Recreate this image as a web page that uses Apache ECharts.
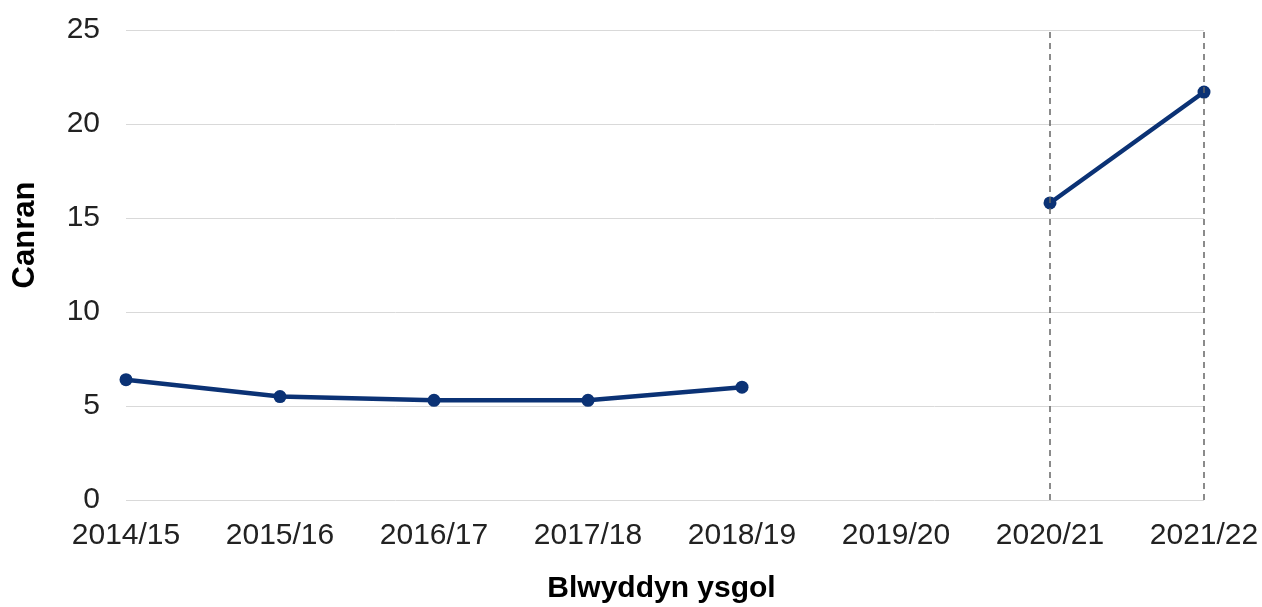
<!DOCTYPE html>
<html>
<head>
<meta charset="utf-8">
<script src="https://cdn.jsdelivr.net/npm/echarts@6/dist/echarts.min.js"></script>
<style>
  html, body { margin: 0; padding: 0; background: #fff; }
  #chart { width: 1262px; height: 607px; }
</style>
</head>
<body>
<div id="chart"></div>
<script>
const years = ['2014/15', '2015/16', '2016/17', '2017/18', '2018/19', '2019/20', '2020/21', '2021/22']
const canran = [6.4, 5.5, 5.3, 5.3, 6.0, null, 15.8, 21.7]
const markedYears = ['2020/21', '2021/22']

const chart = echarts.init(document.getElementById('chart'))

chart.setOption({
  animation: false,
  textStyle: { fontFamily: 'Liberation Sans, Arial, sans-serif' },
  grid: { left: 126, right: 58, top: 30, bottom: 107, outerBoundsMode: 'none' },
  xAxis: {
    type: 'category',
    data: years,
    boundaryGap: false,
    name: 'Blwyddyn ysgol',
    nameLocation: 'middle',
    nameGap: 74,
    nameTextStyle: { fontSize: 30, fontWeight: 'bold', color: '#000', padding: [0, 7, 0, 0] },
    axisLine: { show: false },
    axisTick: { show: false },
    axisLabel: { fontSize: 30, color: '#222', margin: 21 },
    splitLine: { show: false }
  },
  yAxis: {
    type: 'value',
    min: 0,
    max: 25,
    interval: 5,
    name: 'Canran',
    nameLocation: 'middle',
    nameGap: 85,
    nameTextStyle: { fontSize: 31, fontWeight: 'bold', color: '#000', padding: [0, 0, 0, 60] },
    axisLine: { show: false },
    axisTick: { show: false },
    axisLabel: { fontSize: 30, color: '#222', margin: 26 },
    splitLine: { lineStyle: { color: '#d9d9d9', width: 1 } }
  },
  series: [
    {
      type: 'line',
      data: canran,
      connectNulls: false,
      symbol: 'circle',
      symbolSize: 13,
      lineStyle: { color: '#0b3275', width: 4.5 },
      itemStyle: { color: '#0b3275' },
      markLine: {
        silent: true,
        symbol: 'none',
        label: { show: false },
        lineStyle: { color: '#666', type: [6, 5], width: 1.5 },
        data: markedYears.map((y) => ({ xAxis: y }))
      },
      z: 3
    }
  ]
})
</script>
</body>
</html>
